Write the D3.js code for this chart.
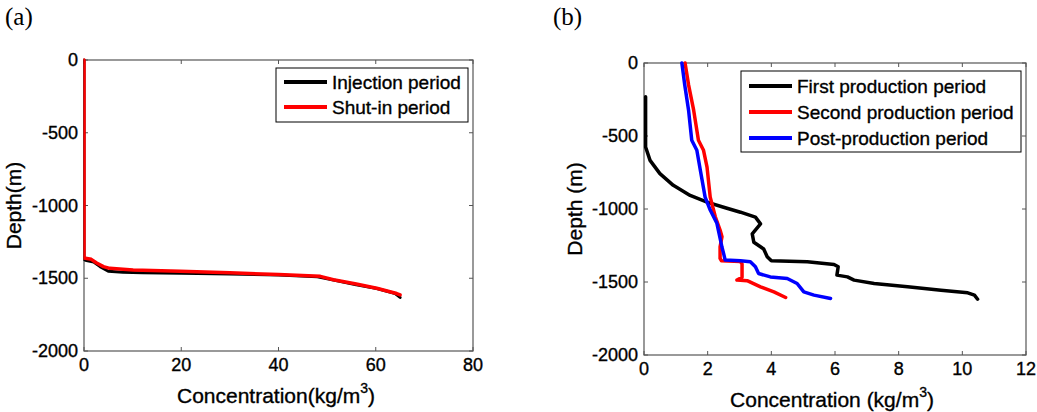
<!DOCTYPE html>
<html><head><meta charset="utf-8">
<script src="https://cdn.jsdelivr.net/npm/d3@7"></script>
<style>
body{margin:0;background:#fff;}
svg{display:block;}
text.sans{font-family:"Liberation Sans",Arial,sans-serif;fill:#000;stroke:#000;stroke-width:0.35px;}
</style></head>
<body><svg id="c" width="1037" height="412"></svg>
<script>
// ---------- Data ----------
// Panel (a): [concentration kg/m3, depth m]
const injectionPeriod = [[0,0],[0,-1372],[0.5,-1378],[2,-1388],[3.3,-1420],[5,-1452],[8,-1458],[12,-1462],[20,-1465],[30,-1470],[40,-1478],[48,-1490],[51.3,-1512],[56,-1545],[60.2,-1570],[64,-1605],[65,-1632]];
const shutinPeriod = [[0,0],[0,-1361],[1.5,-1370],[2.6,-1395],[4,-1420],[5.3,-1432],[10.1,-1443],[19.8,-1452],[30,-1462],[40,-1475],[48.6,-1487],[51.3,-1510],[56,-1540],[60.2,-1569],[64.3,-1605],[65,-1615]];
// Panel (b)
const firstProduction = [[0.05,-231],[0.05,-575],[0.19,-667],[0.5,-758],[0.92,-838],[1.45,-907],[1.98,-953],[2.5,-988],[3.03,-1022],[3.5,-1056],[3.66,-1102],[3.4,-1170],[3.45,-1228],[3.76,-1274],[3.87,-1327],[4.0,-1355],[4.29,-1357],[5.13,-1362],[5.97,-1380],[6.1,-1396],[6.06,-1453],[6.39,-1465],[6.6,-1487],[7.23,-1510],[8.28,-1533],[9.33,-1556],[10.17,-1574],[10.38,-1590],[10.48,-1618]];
const secondProduction = [[1.29,0],[1.4,-150],[1.56,-323],[1.71,-529],[1.87,-598],[1.98,-713],[2.08,-919],[2.24,-1053],[2.39,-1144],[2.45,-1190],[2.39,-1259],[2.39,-1339],[2.43,-1354],[3.03,-1360],[3.08,-1377],[3.08,-1468],[2.92,-1487],[3.24,-1491],[3.66,-1533],[4.08,-1568],[4.45,-1606]];
const postProduction = [[1.19,0],[1.28,-150],[1.4,-323],[1.5,-529],[1.66,-598],[1.77,-735],[1.92,-919],[2.08,-1007],[2.29,-1098],[2.45,-1262],[2.5,-1304],[2.55,-1350],[3.03,-1355],[3.34,-1362],[3.5,-1396],[3.6,-1442],[3.97,-1465],[4.5,-1476],[4.81,-1510],[5.02,-1568],[5.34,-1590],[5.86,-1613]];

const xTicksA = [0,20,40,60,80];
const xTicksB = [0,2,4,6,8,10,12];
const yTicks = [0,-500,-1000,-1500,-2000];
const legendA = ["Injection period","Shut-in period"];
const legendB = ["First production period","Second production period","Post-production period"];

// ---------- Drawing ----------
const svg = d3.select("#c");
svg.append("rect").attr("width",1037).attr("height",412).attr("fill","#fff");

function panel(o, id){
  const g = svg.append("g");
  const x = d3.scaleLinear().domain(o.xDomain).range([o.left,o.right]);
  const y = d3.scaleLinear().domain([-2000,0]).range([o.bottom,o.top]);
  const tl = 4;
  svg.append("clipPath").attr("id",id).append("rect").attr("x",o.left-0.6).attr("y",o.top-3)
    .attr("width",o.right-o.left).attr("height",o.bottom-o.top+3);
  // frame
  g.append("rect").attr("x",o.left).attr("y",o.top).attr("width",o.right-o.left).attr("height",o.bottom-o.top)
    .attr("fill","none").attr("stroke","#555").attr("stroke-width",1.2);
  o.xTicks.forEach(t=>{
    g.append("line").attr("x1",x(t)).attr("x2",x(t)).attr("y1",o.bottom).attr("y2",o.bottom-tl).attr("stroke","#555");
    g.append("line").attr("x1",x(t)).attr("x2",x(t)).attr("y1",o.top).attr("y2",o.top+tl).attr("stroke","#555");
    g.append("text").attr("class","sans").attr("x",x(t)).attr("y",o.bottom+20).attr("text-anchor","middle").attr("font-size",18).text(t);
  });
  yTicks.forEach(t=>{
    g.append("line").attr("x1",o.left).attr("x2",o.left+tl).attr("y1",y(t)).attr("y2",y(t)).attr("stroke","#555");
    g.append("line").attr("x1",o.right).attr("x2",o.right-tl).attr("y1",y(t)).attr("y2",y(t)).attr("stroke","#555");
    g.append("text").attr("class","sans").attr("x",o.left-6).attr("y",y(t)+6).attr("text-anchor","end").attr("font-size",18).text(t);
  });
  const line = d3.line().x(d=>x(d[0])).y(d=>y(d[1]));
  o.series.forEach(s=>{
    g.append("path").datum(s.data).attr("d",line).attr("fill","none").attr("stroke",s.color)
      .attr("clip-path",`url(#${id})`)
      .attr("stroke-width",s.w).attr("stroke-linejoin","round").attr("stroke-linecap","round");
  });
  // legend
  const L = o.legend;
  g.append("rect").attr("x",L.x).attr("y",L.y).attr("width",L.w).attr("height",L.h).attr("fill","#fff").attr("stroke","#000").attr("stroke-width",1);
  o.series.forEach((s,i)=>{
    const yy = L.y + L.first + i*L.step;
    g.append("line").attr("x1",L.x+8).attr("x2",L.x+51).attr("y1",yy).attr("y2",yy).attr("stroke",s.color).attr("stroke-width",4);
    g.append("text").attr("class","sans").attr("x",L.x+56).attr("y",yy+7).attr("font-size",19).text(o.labels[i]);
  });
  // axis labels
  const xl = g.append("text").attr("class","sans").attr("x",o.xLabelX).attr("y",o.xLabelY).attr("text-anchor","middle").attr("font-size",21);
  xl.append("tspan").text(o.xLabelPre);
  xl.append("tspan").attr("dy",-10).attr("font-size",14).text("3");
  xl.append("tspan").attr("dy",10).text(")");
  g.append("text").attr("class","sans").attr("transform",`translate(${o.yLabelX},${(o.top+o.bottom)/2}) rotate(-90)`)
    .attr("text-anchor","middle").attr("font-size",21).text(o.yLabel);
  g.append("text").attr("x",o.tagX).attr("y",25).attr("font-family","Liberation Serif, serif").attr("font-size",25).attr("fill","#000").text(o.tag);
}

panel({
  left:84,right:473,top:60,bottom:351,xDomain:[0,80],xTicks:xTicksA,
  series:[{data:injectionPeriod,color:"#000",w:3},{data:shutinPeriod,color:"#ff0000",w:3.5}],
  labels:legendA, legend:{x:276,y:68,w:192,h:54,first:14,step:25},
  xLabelX:276,xLabelY:403,xLabelPre:"Concentration(kg/m",yLabelX:21,yLabel:"Depth(m)",tag:"(a)",tagX:5
},"clipA");
panel({
  left:644,right:1026,top:63,bottom:355,xDomain:[0,12],xTicks:xTicksB,
  series:[{data:firstProduction,color:"#000",w:3.5},{data:secondProduction,color:"#ff0000",w:3.5},{data:postProduction,color:"#0000ff",w:3.5}],
  labels:legendB, legend:{x:741,y:71,w:280,h:81,first:15,step:26},
  xLabelX:832,xLabelY:407,xLabelPre:"Concentration (kg/m",yLabelX:582,yLabel:"Depth (m)",tag:"(b)",tagX:553
},"clipB");
</script></body></html>
